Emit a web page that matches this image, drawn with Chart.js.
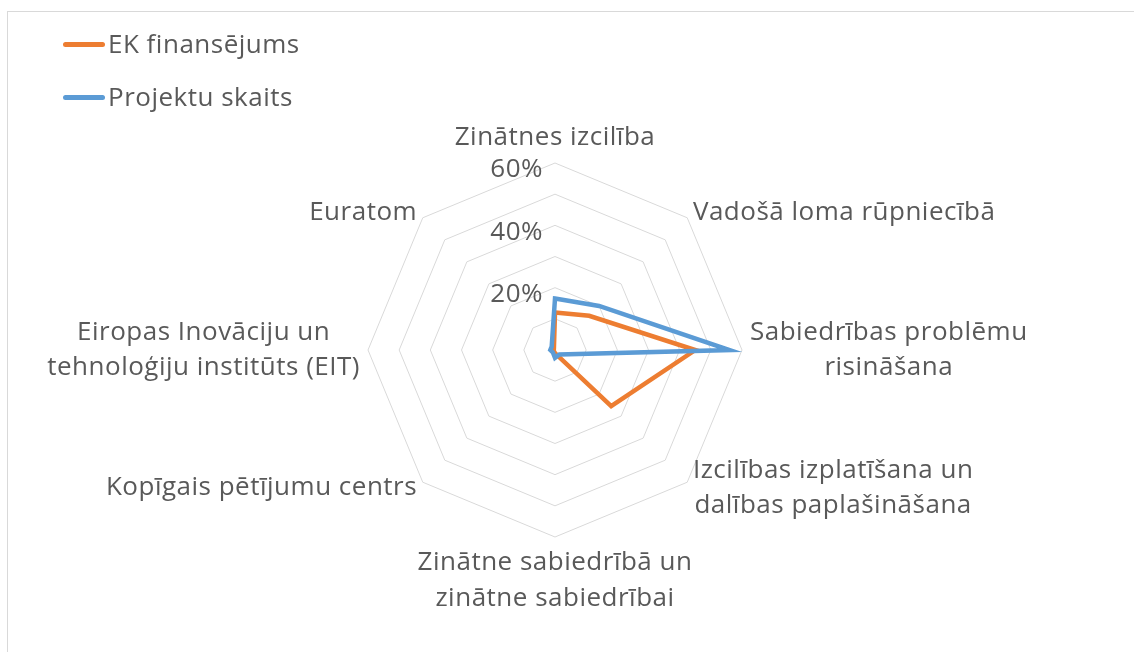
<!DOCTYPE html>
<html lang="lv">
<head>
<meta charset="UTF-8">
<title>Radar</title>
<script src="https://cdn.jsdelivr.net/npm/chart.js@4.4.1/dist/chart.umd.min.js"></script>
<style>
    html, body { margin: 0; padding: 0; background: #fff; }
    #wrap { position: relative; width: 1134px; height: 652px; overflow: hidden; font-family: "Open Sans", sans-serif; }
    #frame { position: absolute; left: 7px; top: 11px; width: 1200px; height: 700px;
             border-left: 1px solid #d9d9d9; border-top: 1px solid #d9d9d9; }
    canvas { position: absolute; left: 0; top: 0; }
    .item { position: absolute; left: 63px; height: 36px; white-space: nowrap; }
    .swatch { position: absolute; left: 0; top: 15.5px; width: 42px; height: 5px; border-radius: 3px; }
    .txt { position: absolute; left: 45px; top: -1px; line-height: 36px; font-size: 26px;
           letter-spacing: 0.5px; color: #595959; }
</style>
<script>
    // kategorijas (pulksteņrādītāja virzienā no augšas)
    var categories = [
        'Zinātnes izcilība',
        'Vadošā loma rūpniecībā',
        ['Sabiedrības problēmu', 'risināšana'],
        ['Izcilības izplatīšana un', 'dalības paplašināšana'],
        ['Zinātne sabiedrībā un', 'zinātne sabiedrībai'],
        'Kopīgais pētījumu centrs',
        ['Eiropas Inovāciju un', 'tehnoloģiju institūts (EIT)'],
        'Euratom'
    ];
    var ekFinansejums  = [12, 15.5, 45, 25.5, 1, 0.5, 0.5, 0.5];
    var projektuSkaits = [16.5, 20, 56, 2, 2.5, 1, 1.5, 1.5];
    var seriesNames  = ['EK finansējums', 'Projektu skaits'];
    var seriesColors = ['#ED7D31', '#5B9BD5'];
    var tickValues = [20, 40, 60];
    var tickLabels = ['20%', '40%', '60%'];

    var textColor = '#595959';
    var labelFont = '26px "Open Sans"';
    var lineH = 35.5;

    // Excel-like label placement around the octagon
    var excelLabels = {
        id: 'excelLabels',
        afterDraw: function (chart) {
            var s = chart.scales.r;
            var ctx = chart.ctx;
            ctx.save();
            ctx.fillStyle = textColor;
            ctx.font = labelFont;
            ctx.letterSpacing = '0.5px';

            ctx.textAlign = 'right';
            ctx.textBaseline = 'middle';
            for (var i = 0; i < tickValues.length; i++) {
                var ty = s.yCenter - s.getDistanceFromCenterForValue(tickValues[i]);
                ctx.fillText(tickLabels[i], s.xCenter - 12, ty + 7);
            }

            ctx.textAlign = 'center';
            categories.forEach(function (c, i) {
                var lines = [].concat(c);
                var p = s.getPointPosition(i, s.drawingArea + 8);
                var w = 0;
                lines.forEach(function (t) { w = Math.max(w, ctx.measureText(t).width); });
                var h = lines.length * lineH;
                var a = s.getIndexAngle(i);
                var sx = Math.sin(a), cy = Math.cos(a);
                var cx = sx > 0.01 ? p.x + w / 2 : (sx < -0.01 ? p.x - w / 2 : p.x);
                var top = cy > 0.9 ? p.y - h : (cy < -0.9 ? p.y : p.y - h / 2);
                lines.forEach(function (t, k) {
                    ctx.fillText(t, cx, top + lineH * (k + 0.5));
                });
            });
            ctx.restore();
        }
    };

    window.onload = function () {
        // legend
        var legend = document.getElementById('legend');
        var legendY = [26, 79];
        for (var i = 0; i < seriesNames.length; i++) {
            var item = document.createElement('div');
            item.className = 'item';
            item.style.top = legendY[i] + 'px';
            item.innerHTML = '<div class="swatch" style="background:' + seriesColors[i] + '"></div>' +
                             '<div class="txt">' + seriesNames[i] + '</div>';
            legend.appendChild(item);
        }

        var ctx = document.getElementById('radar');
        new Chart(ctx, {
            type: 'radar',
            data: {
                labels: categories,
                datasets: [{
                    label: seriesNames[0],
                    data: ekFinansejums,
                    borderColor: seriesColors[0],
                    borderWidth: 4.5,
                    fill: false,
                    order: 1
                }, {
                    label: seriesNames[1],
                    data: projektuSkaits,
                    borderColor: seriesColors[1],
                    borderWidth: 4.5,
                    fill: false,
                    order: 0
                }]
            },
            options: {
                responsive: false,
                animation: false,
                layout: { padding: { left: 368, right: 392, top: 163, bottom: 115 } },
                elements: { line: { tension: 0, borderJoinStyle: 'miter' }, point: { radius: 0 } },
                plugins: { legend: { display: false }, tooltip: { enabled: false } },
                scales: {
                    r: {
                        min: 0,
                        max: 60,
                        ticks: { stepSize: 10, display: false },
                        grid: { color: '#d9d9d9', lineWidth: 1 },
                        angleLines: { display: false },
                        pointLabels: { display: false }
                    }
                }
            },
            plugins: [excelLabels]
        });
    };
</script>
</head>
<body>
<div id="wrap">
    <div id="frame"></div>
    <canvas id="radar" width="1134" height="652"></canvas>
    <div id="legend"></div>
</div>
</body>
</html>
